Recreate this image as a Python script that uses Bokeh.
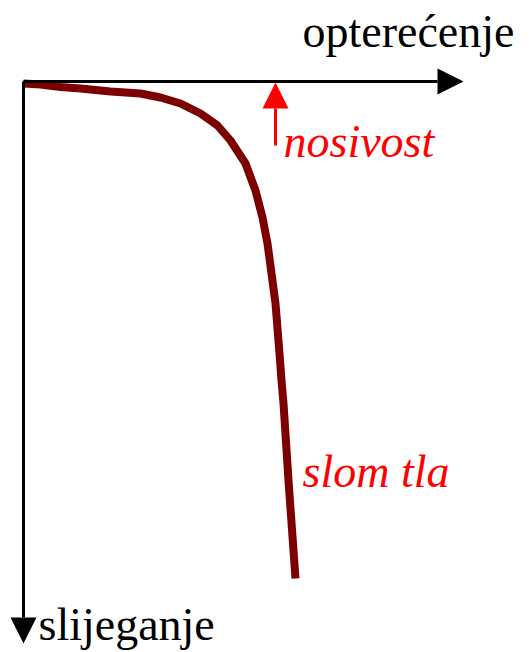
from bokeh.plotting import figure
from bokeh.models import Range1d, Arrow, NormalHead, ColumnDataSource
from bokeh.core.properties import value
from bokeh.embed import file_html
from bokeh.resources import INLINE

# Load-settlement curve (schematic units, origin at the axes' corner)
load = [0, 17, 37, 57, 87, 117, 137, 157, 167, 177, 187, 194, 207, 222, 232, 239,
        244, 248, 252, 256, 258, 260, 265, 272]
settlement = [2, 3, 5.5, 7, 10, 12, 16, 22, 27, 32, 39, 44, 59, 82, 109, 136,
              162, 192, 222, 272, 299, 322, 399, 497]

axis_labels = ["opterećenje", "slijeganje"]
annotations = ["nosivost", "slom tla"]
bearing_capacity_load = 252

p = figure(width=531, height=652, output_backend="svg", toolbar_location=None,
           x_range=Range1d(-23, 508), y_range=Range1d(571, -81),
           min_border=0)
p.axis.visible = False
p.grid.visible = False
p.outline_line_color = None
p.background_fill_color = "white"

# axes as arrows
p.add_layout(Arrow(end=NormalHead(size=26, fill_color="black", line_color="black", line_width=0),
                   x_start=0, y_start=0, x_end=440, y_end=0,
                   line_color="black", line_width=3))
p.add_layout(Arrow(end=NormalHead(size=26, fill_color="black", line_color="black", line_width=0),
                   x_start=0, y_start=0, x_end=0, y_end=562,
                   line_color="black", line_width=3))

# curve
src = ColumnDataSource(dict(x=load, y=settlement))
p.line("x", "y", source=src, line_color="#7d0000", line_width=8,
       line_cap="butt", line_join="round")

# bearing capacity arrow
p.add_layout(Arrow(end=NormalHead(size=26, fill_color="#ff0000", line_color="#ff0000", line_width=0),
                   x_start=bearing_capacity_load, y_start=64,
                   x_end=bearing_capacity_load, y_end=1,
                   line_color="#ff0000", line_width=3))

font = value("Liberation Serif")
p.text(x=[279], y=[-50], text=[axis_labels[0]], text_font=font, text_font_size="46px",
       text_color="black", text_align="left", text_baseline="alphabetic")
p.text(x=[15], y=[543], text=[axis_labels[1]], text_font=font, text_font_size="46px",
       text_color="black", text_align="left", text_baseline="alphabetic")
p.text(x=[260], y=[60], text=[annotations[0]], text_font=font, text_font_size="46px",
       text_font_style="italic", text_color="#ff0000", text_align="left", text_baseline="alphabetic")
p.text(x=[279], y=[390], text=[annotations[1]], text_font=font, text_font_size="46px",
       text_font_style="italic", text_color="#ff0000", text_align="left", text_baseline="alphabetic")

open("out.html", "w").write(file_html(p, INLINE))
